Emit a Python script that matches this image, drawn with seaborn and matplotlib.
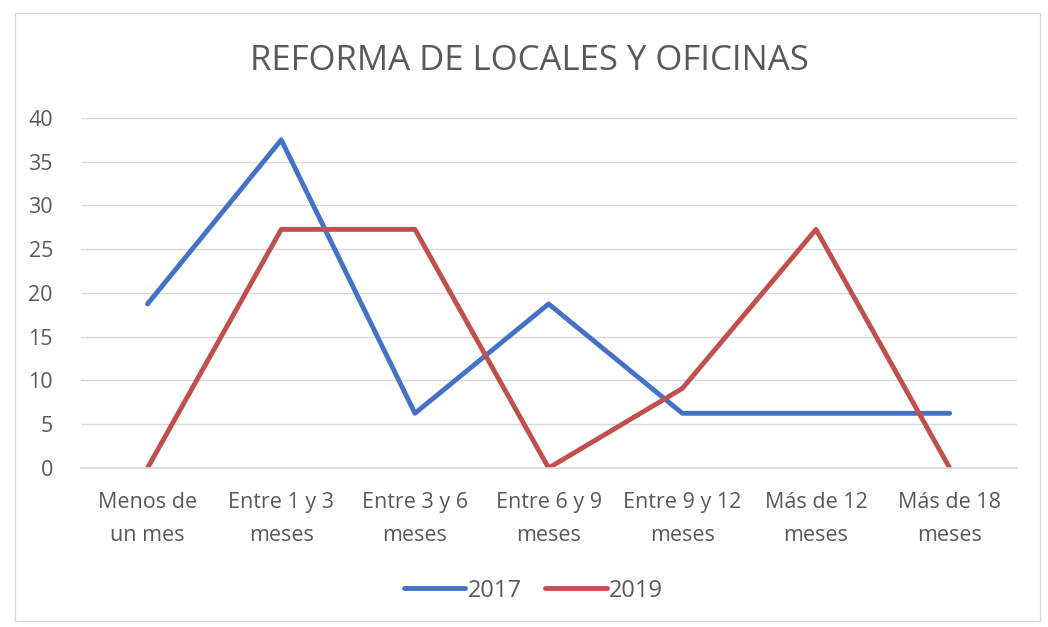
import matplotlib
matplotlib.use("Agg")
import matplotlib.pyplot as plt
import seaborn as sns
import pandas as pd
from matplotlib.patches import Rectangle
from matplotlib.lines import Line2D

categories = ["Menos de\nun mes", "Entre 1 y 3\nmeses", "Entre 3 y 6\nmeses", "Entre 6 y 9\nmeses",
              "Entre 9 y 12\nmeses", "Más de 12\nmeses", "Más de 18\nmeses"]
values_2017 = [18.75, 37.5, 6.25, 18.75, 6.25, 6.25, 6.25]
values_2019 = [0, 27.27, 27.27, 0, 9.09, 27.27, 0]
series = ["2017", "2019"]
colors = ["#4472C4", "#C0504D"]

df = pd.DataFrame({
    "cat": categories * 2,
    "val": values_2017 + values_2019,
    "serie": [series[0]] * len(categories) + [series[1]] * len(categories),
})

sns.set_theme(style="white")
plt.rcParams['font.family'] = ['Open Sans', 'DejaVu Sans']

fig = plt.figure(figsize=(10.48, 6.27), dpi=100)
fig.patches.append(Rectangle((0.014, 0.01), 0.978, 0.97, transform=fig.transFigure,
                             fill=False, edgecolor="#D9D9D9", linewidth=1))
ax = fig.add_axes([0.077, 0.2536, 0.893, 0.5582])
sns.lineplot(data=df, x="cat", y="val", hue="serie", palette=colors, linewidth=3.5,
             sort=False, ax=ax, legend=False)
ax.set_xlim(-0.5, 6.5)
ax.set_ylim(0, 40)
ax.set_yticks(range(0, 41, 5))
ax.grid(axis="y", color="#D9D9D9", linewidth=1)
ax.set_axisbelow(True)
for s in ["top", "right", "left"]:
    ax.spines[s].set_visible(False)
ax.spines["bottom"].set_color("#D9D9D9")
ax.set_xlabel("")
ax.set_ylabel("")
ax.tick_params(axis="both", colors="#595959", labelsize=15.5, length=0)
ax.tick_params(axis="x", pad=17)
ax.tick_params(axis="y", pad=20)
for lab in ax.get_xticklabels():
    lab.set_linespacing(1.75)
for lab in ax.get_xticklabels() + ax.get_yticklabels():
    lab.set_color("#595959")
fig.text(0.505, 0.902, "REFORMA DE LOCALES Y OFICINAS", ha="center", va="center",
         fontsize=25, color="#595959")
handles = [Line2D([0], [0], color=c, linewidth=3.5) for c in colors]
fig.legend(handles, series, loc="center", bbox_to_anchor=(0.509, 0.058), ncol=2,
           frameon=False, fontsize=17, labelcolor="#595959", handlelength=2.6,
           handletextpad=0.1, columnspacing=1.0)
fig.savefig("out.png", dpi=100)
